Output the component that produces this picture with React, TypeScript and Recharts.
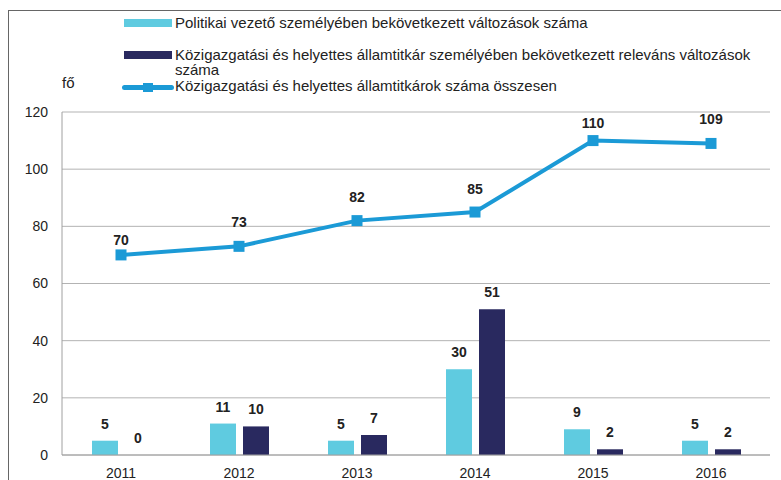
import React from "react";
import {
  ComposedChart,
  Bar,
  Line,
  XAxis,
  YAxis,
  CartesianGrid,
  LabelList,
} from "recharts";

const years = ["2011", "2012", "2013", "2014", "2015", "2016"];
const politikai = [5, 11, 5, 30, 9, 5];
const kozigazgatasi = [0, 10, 7, 51, 2, 2];
const osszesen = [70, 73, 82, 85, 110, 109];
const yTicks = [0, 20, 40, 60, 80, 100, 120];

const LIGHT = "#5fcbe0";
const DARK = "#29295f";
const LINE = "#1b9ad6";
const FONT = "'Liberation Sans', Arial, sans-serif";

// how far above each marker the line's value label sits (as in the source)
const lineLabelLift = [15, 24, 24, 23, 18, 24];

const data = years.map((y, i) => ({
  year: y,
  politikai: politikai[i],
  kozig: kozigazgatasi[i],
  osszes: osszesen[i],
}));

const SquareDot = (props: any) => {
  const { cx, cy, index } = props;
  if (cx == null || cy == null) return <g key={index} />;
  return <rect key={index} x={cx - 5.5} y={cy - 5.5} width={11} height={11} fill={LINE} />;
};

const labelStyle = { fontFamily: FONT, fontSize: 14, fontWeight: 700, fill: "#222" };

const LineLabel = (props: any) => {
  const { x, y, value, index } = props;
  return (
    <text x={x} y={y - lineLabelLift[index] + 5} textAnchor="middle" style={labelStyle}>
      {value}
    </text>
  );
};

function LegendBox() {
  const text: React.CSSProperties = {
    position: "absolute",
    left: 175,
    fontSize: 15,
    lineHeight: "15px",
    color: "#222",
    width: 600,
  };
  return (
    <>
      <div style={{ position: "absolute", left: 124, top: 19, width: 48, height: 8, background: LIGHT }} />
      <div style={{ ...text, top: 15 }}>Politikai vezető személyében bekövetkezett változások száma</div>
      <div style={{ position: "absolute", left: 124, top: 51, width: 48, height: 8, background: DARK }} />
      <div style={{ ...text, top: 47 }}>
        Közigazgatási és helyettes államtitkár személyében bekövetkezett releváns változások száma
      </div>
      <div
        style={{ position: "absolute", left: 122, top: 85, width: 52, height: 5, borderRadius: 3, background: LINE }}
      />
      <div style={{ position: "absolute", left: 143, top: 83, width: 10, height: 9, background: LINE }} />
      <div style={{ ...text, top: 78 }}>Közigazgatási és helyettes államtitkárok száma összesen</div>
      <div style={{ position: "absolute", left: 62, top: 75, fontSize: 15, lineHeight: "15px", color: "#222" }}>
        fő
      </div>
    </>
  );
}

export default function App() {
  return (
    <div
      style={{
        position: "absolute",
        left: 0,
        top: 0,
        width: 781,
        height: 480,
        background: "#fff",
        fontFamily: FONT,
        overflow: "hidden",
      }}
    >
      <div
        style={{
          position: "absolute",
          left: 8,
          top: 10,
          width: 800,
          height: 500,
          borderTop: "1px solid #666",
          borderLeft: "1px solid #666",
        }}
      />
      <LegendBox />
      <div style={{ position: "absolute", left: 0, top: 0 }}>
        <ComposedChart
          width={781}
          height={480}
          data={data}
          margin={{ top: 112, right: 11, left: 22, bottom: 5 }}
          barGap={7}
        >
          <CartesianGrid vertical={false} stroke="#b3b3b3" strokeWidth={1} />
          <XAxis
            dataKey="year"
            height={20}
            axisLine={{ stroke: "#a0a0a0" }}
            tickLine={false}
            tickMargin={7}
            tick={{ fill: "#222", fontSize: 14, fontFamily: FONT }}
          />
          <YAxis
            width={40}
            domain={[0, 120]}
            ticks={yTicks}
            interval={0}
            axisLine={{ stroke: "#a0a0a0" }}
            tickLine={false}
            tickMargin={8}
            tick={{ fill: "#222", fontSize: 14, fontFamily: FONT }}
          />
          <Bar dataKey="politikai" fill={LIGHT} barSize={26} isAnimationActive={false}>
            <LabelList dataKey="politikai" position="top" offset={12} style={labelStyle} />
          </Bar>
          <Bar
            dataKey="kozig"
            fill={DARK}
            barSize={26}
            minPointSize={(v: number) => (v === 0 ? 0.01 : 0)}
            isAnimationActive={false}
          >
            <LabelList dataKey="kozig" position="top" offset={12} style={labelStyle} />
          </Bar>
          <Line
            type="linear"
            dataKey="osszes"
            stroke={LINE}
            strokeWidth={4}
            dot={SquareDot}
            activeDot={false}
            isAnimationActive={false}
          >
            <LabelList dataKey="osszes" content={LineLabel} />
          </Line>
        </ComposedChart>
      </div>
    </div>
  );
}
